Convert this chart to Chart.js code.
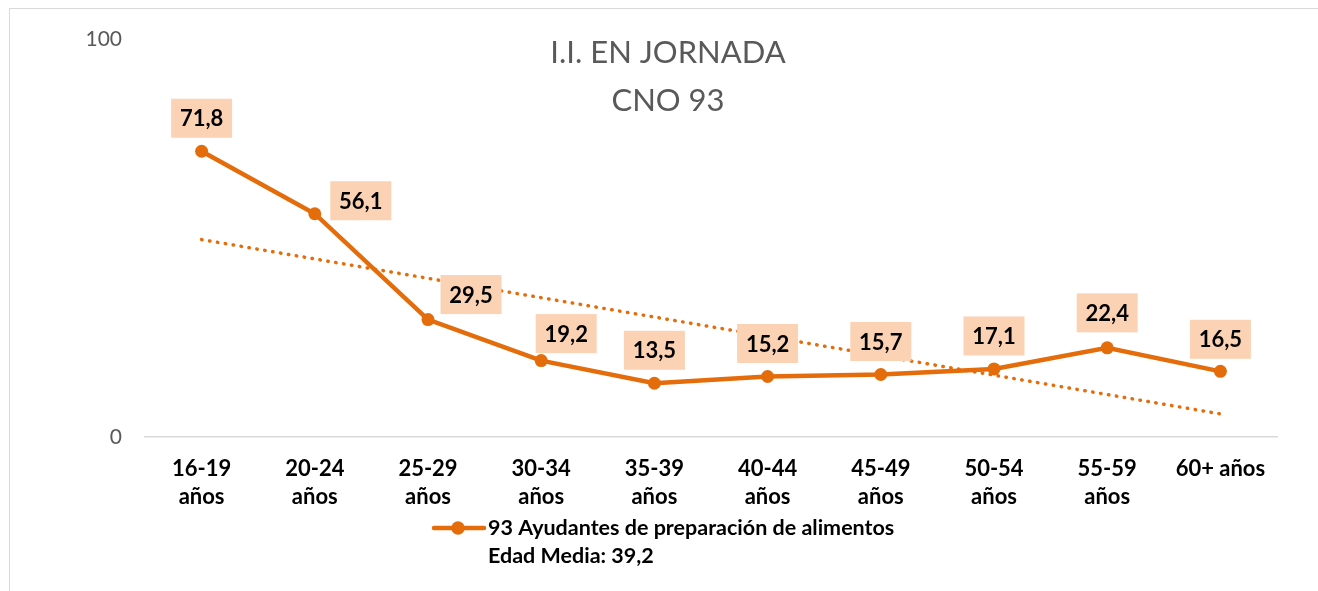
<!DOCTYPE html>
<html lang="es">
<head>
<meta charset="utf-8">
<title>I.I. EN JORNADA - CNO 93</title>
<script src="https://cdn.jsdelivr.net/npm/chart.js@4.4.1/dist/chart.umd.min.js"></script>
<style>
  html, body { margin: 0; padding: 0; background: #ffffff; }
  .frame {
    position: absolute; left: 9px; top: 8px; right: 0; bottom: 0;
    border-top: 1.5px solid #d9d9d9; border-left: 1.5px solid #d9d9d9;
  }
  #wrap { position: absolute; left: 0; top: 0; width: 1318px; height: 591px; }
</style>
</head>
<body>
<div class="frame"></div>
<div id="wrap"><canvas id="chart"></canvas></div>
<script>
(function () {
  // categorías (eje X)
  const CATEGORIES = [
    ['16-19', 'años'],
    ['20-24', 'años'],
    ['25-29', 'años'],
    ['30-34', 'años'],
    ['35-39', 'años'],
    ['40-44', 'años'],
    ['45-49', 'años'],
    ['50-54', 'años'],
    ['55-59', 'años'],
    '60+ años',
  ];

  // I.I. en jornada por edad
  const VALUES = [71.8, 56.1, 29.5, 19.2, 13.5, 15.2, 15.7, 17.1, 22.4, 16.5];

  // línea de tendencia (extremos)
  const TREND_START = 49.6;
  const TREND_END = 5.8;

  const Y_TICKS = [0, 100];

  const SERIES_LABEL = '93 Ayudantes de preparación de alimentos';
  const SUBTITLE = 'Edad Media: 39,2';
  const TITLE = ['I.I. EN JORNADA', 'CNO 93'];

  const ORANGE = '#E46C0A';
  const FONT = 'Lato, "Open Sans", sans-serif';

  const trend = VALUES.map(function () { return null; });
  trend[0] = TREND_START;
  trend[trend.length - 1] = TREND_END;

  // etiquetas con caja (colocadas a mano como en Excel)
  const labelBoxes = {
    id: 'labelBoxes',
    afterDatasetsDraw: function (chart) {
      const offsets = [[0, -33], [46, -13], [43, -25], [25, -27], [0, -33], [0, -33], [0, -33], [0, -33], [0, -35], [0, -32]];
      const meta = chart.getDatasetMeta(0);
      const c = chart.ctx;
      c.save();
      c.font = 'bold 22px ' + FONT;
      c.textAlign = 'center';
      c.textBaseline = 'alphabetic';
      meta.data.forEach(function (pt, i) {
        const txt = VALUES[i].toFixed(1).replace('.', ',');
        const cx = pt.x + offsets[i][0];
        const cy = pt.y + offsets[i][1];
        const w = 61, h = 39;
        c.fillStyle = '#FBD3B4';
        c.fillRect(cx - w / 2, cy - h / 2, w, h);
        c.fillStyle = '#000000';
        c.fillText(txt, cx, cy + 8);
      });
      c.restore();
    },
  };

  // título y leyenda dibujados sobre el lienzo
  const overlay = {
    id: 'overlay',
    afterDraw: function (chart) {
      const c = chart.ctx;
      c.save();
      c.fillStyle = '#595959';
      c.font = '400 31px ' + FONT;
      c.textAlign = 'center';
      c.textBaseline = 'alphabetic';
      c.fillText(TITLE[0], 668, 63);
      c.fillText(TITLE[1], 668, 111);

      // leyenda
      c.strokeStyle = ORANGE;
      c.lineWidth = 4.5;
      c.lineCap = 'round';
      c.beginPath();
      c.moveTo(434, 528);
      c.lineTo(484, 528);
      c.stroke();
      c.fillStyle = ORANGE;
      c.beginPath();
      c.arc(458, 528, 6.7, 0, Math.PI * 2);
      c.fill();

      c.fillStyle = '#000000';
      c.font = 'bold 21.5px ' + FONT;
      c.textAlign = 'left';
      c.fillText(SERIES_LABEL, 488, 535);
      c.fillText(SUBTITLE, 488, 563);
      c.restore();
    },
  };

  new Chart(document.getElementById('chart'), {
    type: 'line',
    data: {
      labels: CATEGORIES,
      datasets: [
        {
          label: SERIES_LABEL,
          data: VALUES,
          borderColor: ORANGE,
          backgroundColor: ORANGE,
          borderWidth: 4.5,
          pointRadius: 6.5,
          pointHoverRadius: 6.5,
          pointBorderWidth: 0,
          tension: 0,
          order: 1,
        },
        {
          label: 'Tendencia',
          data: trend,
          spanGaps: true,
          borderColor: ORANGE,
          borderWidth: 3.5,
          borderDash: [0.5, 7.5],
          borderCapStyle: 'round',
          pointRadius: 0,
          order: 2,
        },
      ],
    },
    options: {
      responsive: true,
      maintainAspectRatio: false,
      animation: false,
      layout: {
        padding: { top: 39, right: 41, bottom: 0, left: 0 },
      },
      plugins: {
        legend: { display: false },
        title: { display: false },
        tooltip: { enabled: false },
      },
      scales: {
        x: {
          offset: true,
          grid: { display: false, drawTicks: false },
          border: { display: true, color: '#d9d9d9', width: 1.5 },
          ticks: {
            color: '#000000',
            padding: 18,
            autoSkip: false,
            maxRotation: 0,
            font: { family: FONT, size: 22, weight: 'bold', lineHeight: 1.27 },
          },
          afterFit: function (scale) { scale.height = 154; },
        },
        y: {
          min: 0,
          max: 100,
          afterBuildTicks: function (scale) {
            scale.ticks = Y_TICKS.map(function (v) { return { value: v }; });
          },
          grid: { display: false, drawTicks: false },
          border: { display: false },
          ticks: {
            color: '#595959',
            padding: 23,
            font: { family: FONT, size: 21 },
          },
          afterFit: function (scale) { scale.width = 145; },
        },
      },
    },
    plugins: [labelBoxes, overlay],
  });
})();
</script>
</body>
</html>
